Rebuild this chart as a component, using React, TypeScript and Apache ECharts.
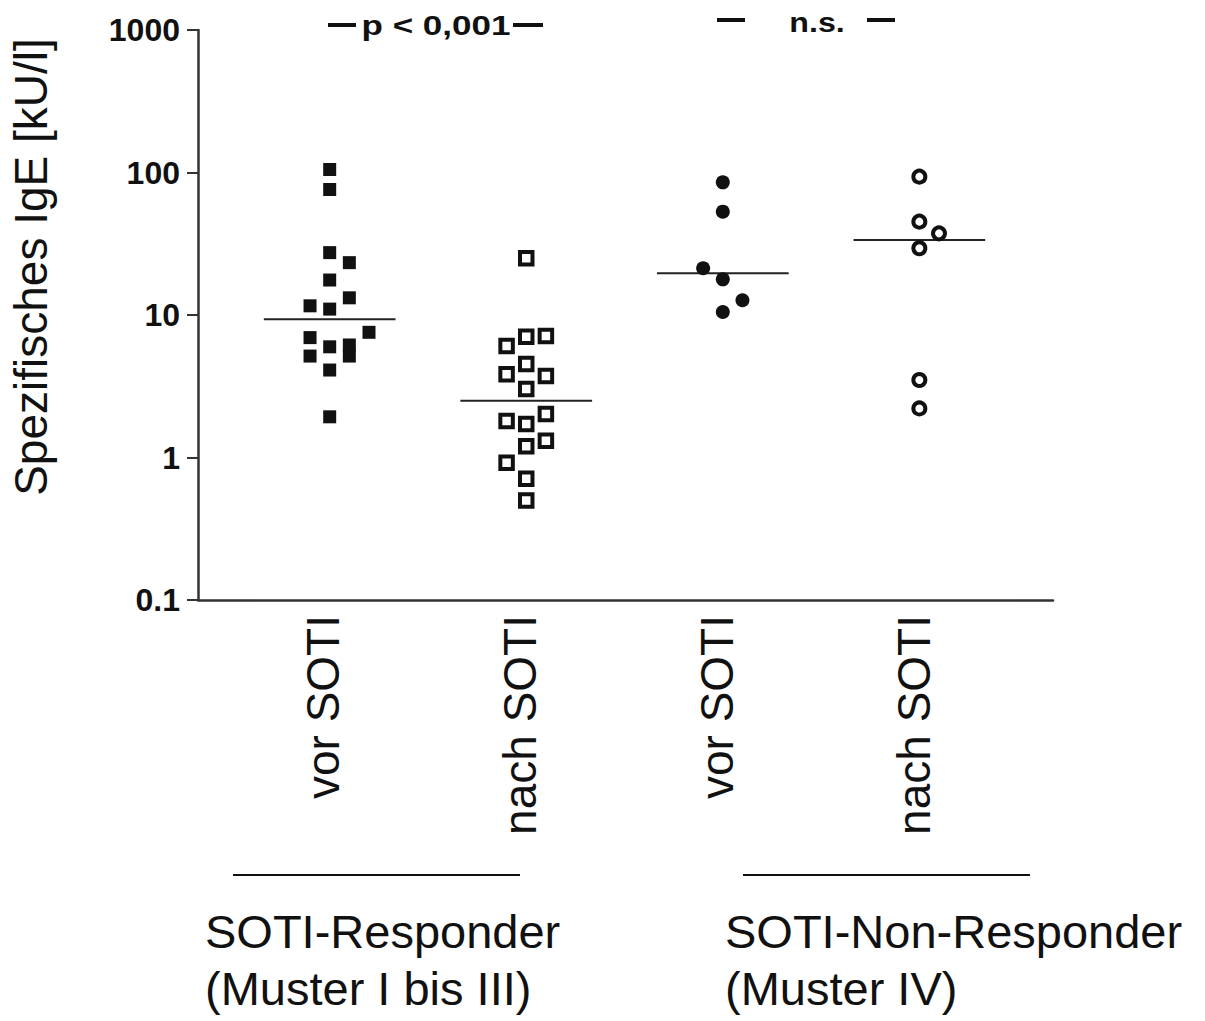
import React, { useEffect, useRef } from 'react';
import * as echarts from 'echarts';

// ---- data ----
const groupLabels = ['vor SOTI', 'nach SOTI', 'vor SOTI', 'nach SOTI'];
const yTicks = [0.1, 1, 10, 100, 1000];

const respBeforeValues = [105, 76, 27.4, 23.3, 17.6, 13.2, 11.6, 11.0, 7.56, 6.94, 5.98, 6.16, 5.15, 5.15, 4.11, 1.93];
const respBeforeCols = [0, 0, 0, 1, 0, 1, -1, 0, 2, -1, 0, 1, 1, -1, 0, 0];
const respAfterValues = [25.0, 7.04, 7.12, 6.06, 4.53, 3.84, 3.73, 3.03, 2.02, 1.8, 1.72, 1.31, 1.2, 0.92, 0.71, 0.5];
const respAfterCols = [0, 0, 1, -1, 0, -1, 1, 0, 1, -1, 0, 1, 0, -1, 0, 0];
const nonBeforeValues = [85.3, 53.1, 21.3, 17.8, 12.7, 10.5];
const nonBeforeCols = [0, 0, -1, 0, 1, 0];
const nonAfterValues = [93.5, 45.2, 37.4, 29.4, 3.5, 2.21];
const nonAfterCols = [0, 0, 1, 0, 0, 0];
const medians = [9.33, 2.5, 19.6, 33.6];

const JITTER = 0.1;
const HALF = 0.335;
const INK = '#111';
const FONT = '"Liberation Sans", Arial, sans-serif';

function pts(group: number, values: number[], cols: number[]) {
  return values.map((v, i) => [group + cols[i] * JITTER, v]);
}

export default function App() {
  const ref = useRef<HTMLDivElement>(null);
  useEffect(() => {
    if (!ref.current) return;
    const chart = echarts.init(ref.current, null, { renderer: 'svg' });
    const scatterBase = { type: 'scatter', xAxisIndex: 0, yAxisIndex: 0, z: 3 };
    const groups = [
      { data: pts(1, respBeforeValues, respBeforeCols), symbol: 'rect', symbolSize: 13, itemStyle: { color: INK, opacity: 1 } },
      { data: pts(2, respAfterValues, respAfterCols), symbol: 'rect', symbolSize: 12.5, itemStyle: { color: '#fff', borderColor: INK, borderWidth: 4, opacity: 1 } },
      { data: pts(3, nonBeforeValues, nonBeforeCols), symbol: 'circle', symbolSize: 14, itemStyle: { color: INK, opacity: 1 } },
      { data: pts(4, nonAfterValues, nonAfterCols), symbol: 'circle', symbolSize: 12, itemStyle: { color: '#fff', borderColor: INK, borderWidth: 4, opacity: 1 } },
    ];
    const medianSeries = medians.map((m, i) => ({
      type: 'line',
      xAxisIndex: 0,
      yAxisIndex: 0,
      z: 2,
      symbol: 'none',
      silent: true,
      lineStyle: { color: '#222', width: 2 },
      data: [[i + 1 - HALF, m], [i + 1 + HALF, m]],
    }));
    const dash = (x1: number, x2: number, y: number) => ({
      type: 'line',
      shape: { x1, y1: y, x2, y2: y },
      style: { stroke: INK, lineWidth: 4 },
    });
    chart.setOption({
      animation: false,
      backgroundColor: '#fff',
      grid: [
        { left: 198, right: 152, top: 30, bottom: 421 },
        { left: 224.5, right: 192.5, top: 30, bottom: 421 },
      ],
      xAxis: [
        {
          type: 'value', gridIndex: 0, min: 0.33, max: 4.68,
          axisLine: { show: true, lineStyle: { color: '#333', width: 2.5 } },
          axisTick: { show: false }, axisLabel: { show: false }, splitLine: { show: false },
        },
        {
          type: 'category', gridIndex: 1, data: groupLabels, boundaryGap: true,
          axisLine: { show: false }, axisTick: { show: false }, splitLine: { show: false },
          axisLabel: { rotate: 90, margin: 15, fontSize: 46, color: INK, fontFamily: FONT, interval: 0 },
        },
      ],
      yAxis: [
        {
          type: 'log', gridIndex: 0, logBase: 10, min: yTicks[0], max: yTicks[yTicks.length - 1],
          axisLine: { show: true, lineStyle: { color: '#333', width: 2.5 } },
          axisTick: { show: true, length: 11, lineStyle: { color: '#333', width: 2 } },
          splitLine: { show: false },
          axisLabel: {
            margin: 18, fontSize: 32, fontWeight: 'bold', color: INK, fontFamily: FONT,
            formatter: (v: number) => String(Number(v.toPrecision(3))),
          },
        },
        { type: 'value', gridIndex: 1, show: false },
      ],
      series: [...medianSeries, ...groups.map((g) => ({ ...scatterBase, ...g }))],
      graphic: [
        {
          type: 'text', x: 31, y: 267, rotation: Math.PI / 2,
          style: { text: 'Spezifisches IgE [kU/l]', fontSize: 46, fontFamily: FONT, fill: INK, align: 'center', verticalAlign: 'middle' },
        },
        dash(328, 356, 25),
        {
          type: 'text', x: 436, y: 25, scaleX: 1.25,
          style: { text: 'p < 0,001', fontSize: 28, fontWeight: 'bold', fontFamily: FONT, fill: INK, align: 'center', verticalAlign: 'middle' },
        },
        dash(513, 543, 25),
        dash(717, 745, 20),
        {
          type: 'text', x: 817, y: 22, scaleX: 1.15,
          style: { text: 'n.s.', fontSize: 28, fontWeight: 'bold', fontFamily: FONT, fill: INK, align: 'center', verticalAlign: 'middle' },
        },
        dash(867, 895, 20),
        { type: 'line', shape: { x1: 233, y1: 875, x2: 520, y2: 875 }, style: { stroke: INK, lineWidth: 2 } },
        { type: 'line', shape: { x1: 743, y1: 875, x2: 1030, y2: 875 }, style: { stroke: INK, lineWidth: 2 } },
        {
          type: 'text', x: 205, y: 931,
          style: { text: 'SOTI-Responder', fontSize: 47, fontFamily: FONT, fill: INK, align: 'left', verticalAlign: 'middle' },
        },
        {
          type: 'text', x: 205, y: 988,
          style: { text: '(Muster I bis III)', fontSize: 47, fontFamily: FONT, fill: INK, align: 'left', verticalAlign: 'middle' },
        },
        {
          type: 'text', x: 725, y: 931,
          style: { text: 'SOTI-Non-Responder', fontSize: 47, fontFamily: FONT, fill: INK, align: 'left', verticalAlign: 'middle' },
        },
        {
          type: 'text', x: 725, y: 988,
          style: { text: '(Muster IV)', fontSize: 47, fontFamily: FONT, fill: INK, align: 'left', verticalAlign: 'middle' },
        },
      ],
    });
    return () => chart.dispose();
  }, []);
  return <div ref={ref} style={{ position: 'absolute', left: 0, top: 0, width: 1205, height: 1021 }} />;
}
